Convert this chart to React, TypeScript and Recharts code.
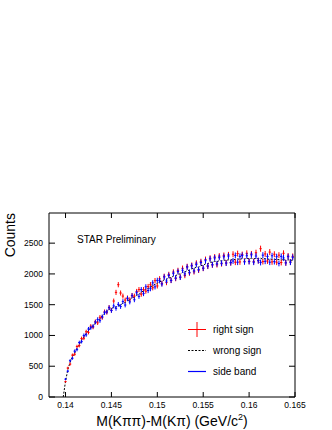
import { ComposedChart, Line, Scatter, ErrorBar, XAxis, YAxis } from 'recharts';

// histogram binning (bin centres)
const binStart = 0.13975;
const binWidth = 0.00025;

// counts per bin
const rightSign = [
  null, 250, 470, 535, 680, 695, 820, 835, 950, 955,
  1060, 1050, 1150, 1135, 1225, 1205, 1295, 1290, 1385, 1375,
  1455, 1410, 1560, 1700, 1825, 1690, 1640, 1575, 1610, 1580,
  1650, 1640, 1715, 1745, 1670, 1745, 1720, 1795, 1825, 1775,
  1890, 1805, 1920, 1845, 1960, 1860, 1990, 1895, 2030, 1925,
  2055, 1950, 2090, 1975, 2120, 2015, 2140, 2035, 2175, 2060,
  2200, 2090, 2235, 2125, 2255, 2145, 2275, 2150, 2290, 2165,
  2300, 2180, 2310, 2180, 2320, 2190, 2330, 2195, 2315, 2205,
  2335, 2205, 2325, 2200, 2345, 2215, 2410, 2200, 2325, 2210,
  2355, 2195, 2320, 2190, 2305, 2185, 2335, 2180, 2290, 2195,
  2285,
];

const wrongSign = [
  0, 255, 445, 565, 655, 715, 795, 855, 925, 975,
  1035, 1075, 1125, 1155, 1200, 1225, 1270, 1315, 1360, 1395,
  1425, 1435, 1460, 1460, 1485, 1495, 1525, 1535, 1565, 1580,
  1615, 1625, 1655, 1665, 1705, 1720, 1755, 1765, 1795, 1805,
  1835, 1845, 1875, 1880, 1905, 1910, 1935, 1940, 1965, 1970,
  1995, 2000, 2025, 2030, 2055, 2060, 2085, 2090, 2110, 2110,
  2135, 2140, 2165, 2165, 2190, 2190, 2205, 2200, 2215, 2210,
  2225, 2220, 2230, 2225, 2240, 2230, 2245, 2235, 2250, 2240,
  2255, 2245, 2255, 2245, 2255, 2245, 2255, 2240, 2250, 2235,
  2245, 2235, 2240, 2230, 2235, 2225, 2235, 2220, 2230, 2220,
  2225,
];

const sideBand = [
  null, 290, 420, 590, 630, 745, 770, 885, 900, 1000,
  1010, 1105, 1125, 1150, 1215, 1260, 1240, 1305, 1370, 1385,
  1450, 1405, 1480, 1440, 1505, 1470, 1550, 1495, 1600, 1545,
  1645, 1580, 1695, 1635, 1745, 1680, 1790, 1730, 1760, 1855,
  1790, 1895, 1890, 1835, 1950, 1885, 1975, 1895, 2010, 1935,
  2040, 1945, 2060, 2000, 2110, 2025, 2130, 2050, 2155, 2070,
  2185, 2095, 2215, 2130, 2245, 2150, 2260, 2165, 2270, 2175,
  2280, 2175, 2290, 2185, 2210, 2300, 2190, 2285, 2300, 2195,
  2295, 2200, 2310, 2190, 2290, 2215, 2185, 2305, 2205, 2285,
  2190, 2295, 2200, 2280, 2170, 2285, 2260, 2180, 2280, 2190,
  2270,
];

const xTicks = [0.14, 0.145, 0.15, 0.155, 0.16, 0.165];
const yTicks = [0, 500, 1000, 1500, 2000, 2500];
const legendLabels = ['right sign', 'wrong sign', 'side band'];

const FONT = '"Liberation Sans", Arial, Helvetica, sans-serif';
const X_DOMAIN = [0.1382, 0.165];
const Y_DOMAIN = [0, 2990];

function toPoints(values: (number | null)[]) {
  return values
    .map((v, i) => ({
      x: binStart + i * binWidth,
      y: v,
      xerr: binWidth / 2,
      yerr: v == null ? 0 : Math.sqrt(v),
    }))
    .filter((p) => p.y != null);
}

const redPts = toPoints(rightSign);
const bluePts = toPoints(sideBand);
const wrongPts = wrongSign.map((v, i) => ({ x: binStart + i * binWidth, y: v }));

const noMarker = () => <g />;
const noLabel = () => <g />;

function XTitle(props: any) {
  const { x, y, width, height } = props.viewBox;
  return (
    <text x={x + width / 2} y={y + height - 4} textAnchor="middle" fontSize={14} fontFamily={FONT} fill="#000">
      M(Kππ)-M(Kπ) (GeV/c
      <tspan dy={-6} fontSize={9}>2</tspan>
      <tspan dy={6}>)</tspan>
    </text>
  );
}

function YTitle() {
  return (
    <text x={15} y={213} transform="rotate(-90, 15, 213)" textAnchor="end" fontSize={14} fontFamily={FONT} fill="#000">
      Counts
    </text>
  );
}

export default function App() {
  const tickStyle = { fontSize: 8.5, fill: '#000', fontFamily: FONT };
  return (
    <div style={{ position: 'absolute', left: 0, top: 0, width: 332, height: 430, background: '#fff' }}>
      <ComposedChart width={332} height={430} margin={{ top: 213, right: 37, bottom: 0, left: 0 }}>
        <XAxis
          type="number"
          dataKey="x"
          domain={X_DOMAIN}
          ticks={xTicks}
          allowDataOverflow
          height={33}
          tickSize={0}
          tickMargin={5}
          tickLine={false}
          axisLine={{ stroke: '#000' }}
          tick={tickStyle}
          tickFormatter={(v: number) => String(Number(v.toFixed(3)))}
          label={<XTitle />}
        />
        <XAxis xAxisId="b2" type="number" dataKey="x" domain={X_DOMAIN} ticks={xTicks} allowDataOverflow mirror height={20} tick={noLabel} tickSize={5} tickLine={{ stroke: '#000' }} axisLine={false} />
        <XAxis xAxisId="top" orientation="top" type="number" dataKey="x" domain={X_DOMAIN} ticks={xTicks} allowDataOverflow mirror height={20} tick={noLabel} tickSize={5} tickLine={{ stroke: '#000' }} axisLine={{ stroke: '#000' }} />
        <YAxis
          type="number"
          domain={Y_DOMAIN}
          ticks={yTicks}
          allowDataOverflow
          width={49}
          tickSize={0}
          tickMargin={6}
          tickLine={false}
          axisLine={{ stroke: '#000' }}
          tick={tickStyle}
          label={<YTitle />}
        />
        <YAxis yAxisId="l2" type="number" domain={Y_DOMAIN} ticks={yTicks} allowDataOverflow mirror width={20} tick={noLabel} tickSize={6} tickLine={{ stroke: '#000' }} axisLine={false} />
        <YAxis yAxisId="right" orientation="right" type="number" domain={Y_DOMAIN} ticks={yTicks} allowDataOverflow mirror width={20} tick={noLabel} tickSize={6} tickLine={{ stroke: '#000' }} axisLine={{ stroke: '#000' }} />

        {/* invisible series so the frame axes get drawn */}
        <Line data={wrongPts} dataKey="y" xAxisId="b2" yAxisId="l2" stroke="none" dot={false} activeDot={false} isAnimationActive={false} />
        <Line data={wrongPts} dataKey="y" xAxisId="top" yAxisId="right" stroke="none" dot={false} activeDot={false} isAnimationActive={false} />

        <Line
          data={wrongPts}
          dataKey="y"
          type="linear"
          stroke="#000"
          strokeWidth={1}
          strokeDasharray="2 1.5"
          dot={false}
          activeDot={false}
          isAnimationActive={false}
        />
        <Scatter data={redPts} dataKey="y" shape={noMarker} isAnimationActive={false}>
          <ErrorBar dataKey="xerr" direction="x" width={0} stroke="#ff0000" strokeWidth={1} isAnimationActive={false} />
          <ErrorBar dataKey="yerr" direction="y" width={0} stroke="#ff0000" strokeWidth={1} isAnimationActive={false} />
        </Scatter>
        <Scatter data={bluePts} dataKey="y" shape={noMarker} isAnimationActive={false}>
          <ErrorBar dataKey="xerr" direction="x" width={0} stroke="#0000ff" strokeWidth={1} isAnimationActive={false} />
          <ErrorBar dataKey="yerr" direction="y" width={0} stroke="#0000ff" strokeWidth={1} isAnimationActive={false} />
        </Scatter>

        <text x={77} y={243} fontSize={10} fontFamily={FONT} fill="#000">STAR Preliminary</text>
        <g fontFamily={FONT} fontSize={10}>
          <line x1={188} y1={329.5} x2={206} y2={329.5} stroke="#ff0000" />
          <line x1={197} y1={322} x2={197} y2={337} stroke="#ff0000" />
          <text x={213} y={333} fill="#000">{legendLabels[0]}</text>
          <line x1={188} y1={350.5} x2={206} y2={350.5} stroke="#000" strokeDasharray="2 1.5" />
          <text x={213} y={354} fill="#000">{legendLabels[1]}</text>
          <line x1={188} y1={371.5} x2={206} y2={371.5} stroke="#0000ff" strokeWidth={1.2} />
          <text x={213} y={375} fill="#000">{legendLabels[2]}</text>
        </g>
      </ComposedChart>
    </div>
  );
}
